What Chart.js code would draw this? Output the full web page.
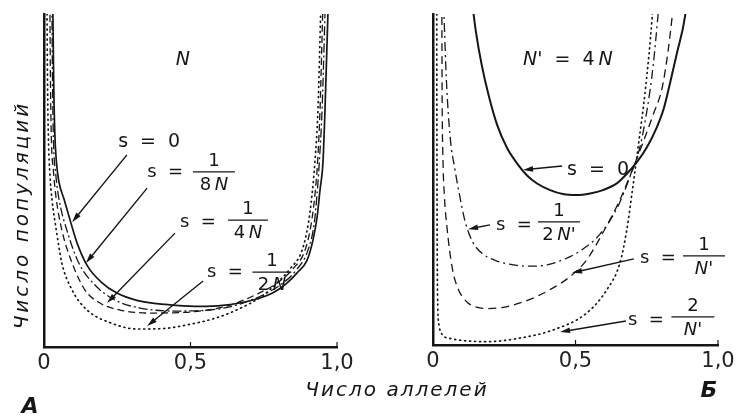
<!DOCTYPE html>
<html>
<head>
<meta charset="utf-8">
<script src="https://cdn.jsdelivr.net/npm/chart.js@4.4.1/dist/chart.umd.min.js"></script>
<style>
  html, body { margin: 0; padding: 0; background: #fff; }
  #wrap { position: relative; width: 741px; height: 418px; }
  #wrap canvas { position: absolute; left: 0; top: 0; }
</style>
</head>
<body>
<div id="wrap">
  <canvas id="chartA" width="741" height="418"></canvas>
  <canvas id="chartB" width="741" height="418"></canvas>
</div>
<script>
// ---- axis ticks (both panels) ----
const xTicks = [0, 0.5, 1];
const xTickLabels = ['0', '0,5', '1,0'];

// ---- Panel A: population size N ----
const aS0X = [0.030, 0.033, 0.037, 0.042, 0.050, 0.068, 0.092, 0.113, 0.147, 0.195, 0.249, 0.317, 0.386, 0.45, 0.53, 0.61, 0.70, 0.78, 0.829, 0.863, 0.898, 0.918, 0.932, 0.942, 0.952, 0.959, 0.970];
const aS0Y = [10.3, 8.0, 6.4, 5.6, 5.0, 4.45, 3.72, 3.12, 2.45, 1.95, 1.62, 1.40, 1.30, 1.25, 1.22, 1.25, 1.38, 1.62, 1.92, 2.22, 2.61, 3.21, 3.90, 4.71, 5.53, 7.12, 10.3];
const aS8X = [0.027, 0.029, 0.032, 0.040, 0.051, 0.078, 0.119, 0.174, 0.242, 0.328, 0.447, 0.567, 0.669, 0.76, 0.82, 0.86, 0.901, 0.922, 0.932, 0.940, 0.949, 0.960];
const aS8Y = [10.3, 8.0, 6.3, 5.2, 4.45, 3.51, 2.52, 1.86, 1.41, 1.17, 1.08, 1.11, 1.29, 1.62, 1.95, 2.3, 2.91, 3.7, 4.6, 5.6, 7.12, 10.3];
const aS4X = [0.020, 0.022, 0.025, 0.032, 0.041, 0.061, 0.096, 0.14, 0.191, 0.259, 0.362, 0.498, 0.635, 0.73, 0.80, 0.85, 0.891, 0.912, 0.925, 0.934, 0.942, 0.952];
const aS4Y = [10.3, 8.0, 6.3, 5.3, 4.50, 3.51, 2.52, 1.71, 1.32, 1.11, 1.02, 1.05, 1.26, 1.6, 1.95, 2.35, 2.91, 3.7, 4.6, 5.6, 7.12, 10.3];
const aS2X = [0.010, 0.012, 0.015, 0.020, 0.027, 0.044, 0.061, 0.096, 0.147, 0.229, 0.317, 0.40, 0.474, 0.59, 0.669, 0.74, 0.79, 0.84, 0.881, 0.902, 0.915, 0.925, 0.935, 0.945];
const aS2Y = [10.3, 8.0, 6.3, 5.2, 4.45, 3.40, 2.52, 1.71, 1.11, 0.72, 0.54, 0.55, 0.64, 0.88, 1.16, 1.5, 1.88, 2.35, 2.91, 3.7, 4.6, 5.6, 7.12, 10.3];

// ---- Panel Б: population size N' = 4N ----
const bS0X  = [0.138, 0.150, 0.170, 0.195, 0.225, 0.260, 0.298, 0.330, 0.365, 0.411, 0.456, 0.505, 0.551, 0.596, 0.646, 0.681, 0.716, 0.751, 0.786, 0.810, 0.832, 0.856, 0.884, 0.889];
const bS0Y  = [10.3, 9.5, 8.5, 7.55, 6.65, 5.95, 5.45, 5.12, 4.88, 4.68, 4.56, 4.53, 4.58, 4.68, 4.89, 5.18, 5.53, 5.98, 6.59, 7.15, 7.92, 8.82, 9.91, 10.3];
const bS12X = [0.037, 0.040, 0.047, 0.060, 0.077, 0.095, 0.113, 0.14, 0.175, 0.22, 0.281, 0.34, 0.40, 0.446, 0.516, 0.586, 0.646, 0.691, 0.726, 0.751, 0.772, 0.789, 0.793];
const bS12Y = [10.3, 9.6, 8.0, 6.3, 5.3, 4.45, 3.72, 3.1, 2.75, 2.55, 2.42, 2.38, 2.42, 2.54, 2.84, 3.35, 4.14, 5.08, 5.98, 7.1, 8.4, 9.91, 10.3];
const bS1X  = [0.031, 0.032, 0.035, 0.040, 0.049, 0.067, 0.088, 0.119, 0.15, 0.19, 0.24, 0.305, 0.36, 0.42, 0.48, 0.54, 0.596, 0.656, 0.709, 0.772, 0.807, 0.839, 0.843];
const bS1Y  = [10.3, 7.6, 5.6, 4.5, 3.56, 2.35, 1.70, 1.30, 1.15, 1.10, 1.13, 1.27, 1.45, 1.72, 2.06, 2.58, 3.39, 4.39, 5.5, 6.95, 7.9, 9.91, 10.3];
const bS2X  = [0.013, 0.014, 0.016, 0.021, 0.032, 0.06, 0.11, 0.19, 0.305, 0.42, 0.54, 0.61, 0.656, 0.68, 0.70, 0.72, 0.745, 0.769, 0.772];
const bS2Y  = [10.3, 5.0, 1.5, 0.6, 0.32, 0.2, 0.13, 0.1, 0.21, 0.45, 0.97, 1.67, 2.48, 3.48, 4.7, 6.0, 7.7, 9.9, 10.3];

const INK = '#161616';
const FAM = '"DejaVu Sans", sans-serif';
const fnt = (size, style) => (style || '') + ' ' + size + 'px ' + FAM;

function pts(xs, ys) {
    return xs.map((x, i) => ({ x: x, y: ys[i] }));
}

function curve(xs, ys, width, dash, cap) {
    return {
        data: pts(xs, ys),
        borderColor: INK,
        borderWidth: width,
        borderDash: dash,
        borderCapStyle: cap || 'butt',
        borderJoinStyle: 'round',
        pointRadius: 0,
        fill: false,
        cubicInterpolationMode: 'monotone'
    };
}

// rich text: list of [text, italic]
function drawParts(ctx, parts, x, y, size, align) {
    let w = 0;
    parts.forEach(p => { ctx.font = fnt(size, p[1] ? 'italic' : ''); w += ctx.measureText(p[0]).width; });
    let cx = align === 'center' ? x - w / 2 : x;
    ctx.textAlign = 'left';
    ctx.textBaseline = 'alphabetic';
    parts.forEach(p => {
        ctx.font = fnt(size, p[1] ? 'italic' : '');
        ctx.fillText(p[0], cx, y);
        cx += ctx.measureText(p[0]).width;
    });
}

function drawArrow(ctx, x1, y1, x2, y2) {
    const a = Math.atan2(y2 - y1, x2 - x1);
    ctx.beginPath();
    ctx.moveTo(x1, y1);
    ctx.lineTo(x2 - 6 * Math.cos(a), y2 - 6 * Math.sin(a));
    ctx.lineWidth = 1.4;
    ctx.stroke();
    ctx.beginPath();
    ctx.moveTo(x2, y2);
    ctx.lineTo(x2 - 10 * Math.cos(a) + 2.8 * Math.sin(a), y2 - 10 * Math.sin(a) - 2.8 * Math.cos(a));
    ctx.lineTo(x2 - 10 * Math.cos(a) - 2.8 * Math.sin(a), y2 - 10 * Math.sin(a) + 2.8 * Math.cos(a));
    ctx.closePath();
    ctx.fill();
}

// notes are placed in data units of the panel
function notesPlugin(id, notes) {
    return {
        id: id,
        afterDatasetsDraw(chart) {
            const ctx = chart.ctx, sx = chart.scales.x, sy = chart.scales.y;
            const X = v => sx.getPixelForValue(v), Y = v => sy.getPixelForValue(v);
            ctx.save();
            ctx.fillStyle = INK;
            ctx.strokeStyle = INK;
            // small inward tick marks
            xTicks.forEach(v => {
                ctx.beginPath();
                ctx.moveTo(X(v), Y(0));
                ctx.lineTo(X(v), Y(0) - 5);
                ctx.lineWidth = 1.2;
                ctx.stroke();
            });
            notes.forEach(n => {
                if (n.kind === 'text') {
                    drawParts(ctx, n.parts, X(n.x), Y(n.y), n.size || 18, n.align);
                } else if (n.kind === 'frac') {
                    const cx = X(n.x), ly = Y(n.y);
                    ctx.beginPath();
                    ctx.moveTo(cx - n.w / 2, ly);
                    ctx.lineTo(cx + n.w / 2, ly);
                    ctx.lineWidth = 1.2;
                    ctx.stroke();
                    drawParts(ctx, n.num, cx, ly - 6, 18, 'center');
                    drawParts(ctx, n.den, cx, ly + 18, 18, 'center');
                } else if (n.kind === 'arrow') {
                    drawArrow(ctx, X(n.x1), Y(n.y1), X(n.x2), Y(n.y2));
                }
            });
            ctx.restore();
        }
    };
}

const frameTitles = {
    id: 'frameTitles',
    afterDraw(chart) {
        const ctx = chart.ctx;
        ctx.save();
        ctx.fillStyle = INK;
        ctx.textAlign = 'center';
        ctx.textBaseline = 'middle';
        ctx.font = fnt(20, 'italic');
        ctx.letterSpacing = '3px';
        ctx.save();
        ctx.translate(23, 215);
        ctx.rotate(-Math.PI / 2);
        ctx.fillText('Число популяций', 0, 0);
        ctx.restore();
        ctx.letterSpacing = '2px';
        ctx.fillText('Число аллелей', 397, 391);
        ctx.letterSpacing = '0px';
        ctx.font = fnt(22, 'italic bold');
        ctx.fillText('А', 30, 407);
        ctx.fillText('Б', 709, 391);
        ctx.restore();
    }
};

function scalesFor(xHeight) {
    return {
        x: {
            type: 'linear', min: 0, max: 1,
            afterBuildTicks: s => { s.ticks = xTicks.map(v => ({ value: v })); },
            afterFit: s => { s.height = xHeight; },
            ticks: {
                callback: v => xTickLabels[xTicks.indexOf(v)],
                font: { family: FAM, size: 21 },
                color: '#222',
                padding: 4,
                maxRotation: 0,
                autoSkip: false
            },
            grid: { display: true, drawOnChartArea: false, drawTicks: false },
            border: { color: INK, width: 2.5 }
        },
        y: {
            min: 0, max: 10,
            afterFit: s => { s.width = 0; },
            ticks: { display: false },
            grid: { display: false },
            border: { color: INK, width: 2.5 }
        }
    };
}

const common = {
    responsive: false,
    animation: false,
    events: [],
    plugins: { legend: { display: false }, tooltip: { enabled: false } }
};

const T = '\u2009'; // thin gap between digit and N

// ---- Panel A ----
const notesA = [
    { kind: 'text', x: 0.474, y: 8.47, parts: [['N', true]], align: 'center', size: 19 },
    { kind: 'text', x: 0.253, y: 6.01, parts: [['s  =  0', false]], size: 19 },
    { kind: 'text', x: 0.352, y: 5.11, parts: [['s  =', false]] },
    { kind: 'frac', x: 0.580, y: 5.26, w: 42, num: [['1', false]], den: [['8' + T, false], ['N', true]] },
    { kind: 'text', x: 0.464, y: 3.60, parts: [['s  =', false]] },
    { kind: 'frac', x: 0.696, y: 3.81, w: 40, num: [['1', false]], den: [['4' + T, false], ['N', true]] },
    { kind: 'text', x: 0.556, y: 2.10, parts: [['s  =', false]] },
    { kind: 'frac', x: 0.778, y: 2.25, w: 39, num: [['1', false]], den: [['2' + T, false], ['N', true]] },
    { kind: 'arrow', x1: 0.283, y1: 5.77, x2: 0.096, y2: 3.75 },
    { kind: 'arrow', x1: 0.352, y1: 4.77, x2: 0.143, y2: 2.52 },
    { kind: 'arrow', x1: 0.447, y1: 3.42, x2: 0.215, y2: 1.32 },
    { kind: 'arrow', x1: 0.543, y1: 1.98, x2: 0.352, y2: 0.63 }
];

new Chart(document.getElementById('chartA'), {
    type: 'line',
    data: {
        datasets: [
            curve(aS2X, aS2Y, 1.7, [1, 4], 'round'),
            curve(aS4X, aS4Y, 1.3, [7, 4]),
            curve(aS8X, aS8Y, 1.3, [9, 3, 2, 3]),
            curve(aS0X, aS0Y, 1.7, [])
        ]
    },
    options: Object.assign({}, common, {
        layout: { padding: { left: 44, right: 404, top: 14, bottom: 0 } },
        scales: scalesFor(71)
    }),
    plugins: [notesPlugin('notesA', notesA), frameTitles]
});

// ---- Panel Б ----
const notesB = [
    { kind: 'text', x: 0.316, y: 8.46, parts: [["N'", true], ['  =  4' + T, false], ['N', true]], size: 19 },
    { kind: 'text', x: 0.470, y: 5.14, parts: [['s  =  0', false]], size: 19 },
    { kind: 'text', x: 0.221, y: 3.47, parts: [['s  =', false]] },
    { kind: 'frac', x: 0.442, y: 3.72, w: 42, num: [['1', false]], den: [['2' + T, false], ["N'", true]] },
    { kind: 'text', x: 0.726, y: 2.48, parts: [['s  =', false]] },
    { kind: 'frac', x: 0.951, y: 2.69, w: 42, num: [['1', false]], den: [["N'", true]] },
    { kind: 'text', x: 0.684, y: 0.60, parts: [['s  =', false]] },
    { kind: 'frac', x: 0.912, y: 0.85, w: 43, num: [['2', false]], den: [["N'", true]] },
    { kind: 'arrow', x1: 0.453, y1: 5.41, x2: 0.316, y2: 5.29 },
    { kind: 'arrow', x1: 0.200, y1: 3.63, x2: 0.123, y2: 3.50 },
    { kind: 'arrow', x1: 0.705, y1: 2.60, x2: 0.488, y2: 2.18 },
    { kind: 'arrow', x1: 0.677, y1: 0.725, x2: 0.446, y2: 0.393 }
];

new Chart(document.getElementById('chartB'), {
    type: 'line',
    data: {
        datasets: [
            curve(bS2X, bS2Y, 1.7, [1, 4], 'round'),
            curve(bS1X, bS1Y, 1.3, [8, 5]),
            curve(bS12X, bS12Y, 1.3, [9, 4, 2, 4]),
            curve(bS0X, bS0Y, 2, [])
        ]
    },
    options: Object.assign({}, common, {
        layout: { padding: { left: 433, right: 23, top: 14, bottom: 0 } },
        scales: scalesFor(73)
    }),
    plugins: [notesPlugin('notesB', notesB)]
});
</script>
</body>
</html>
